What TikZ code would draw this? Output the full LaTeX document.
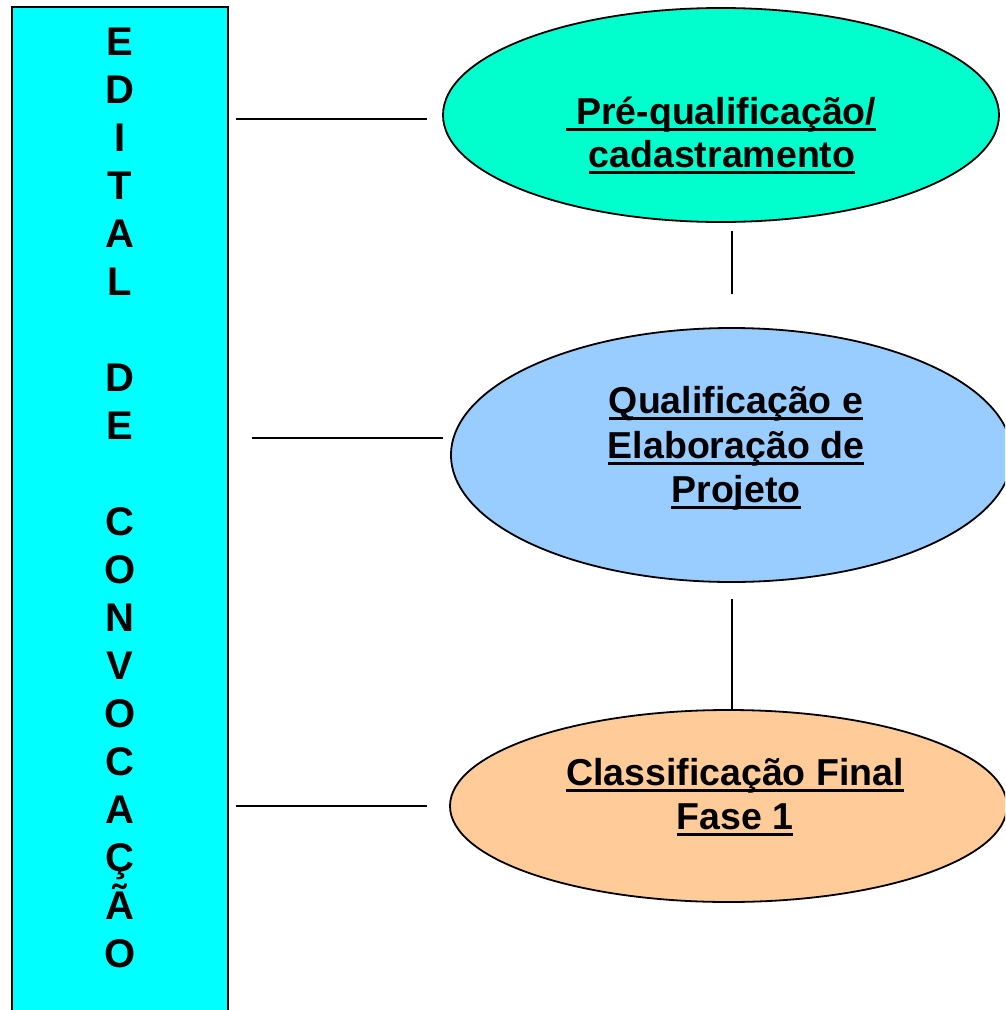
\documentclass[tikz,border=0pt]{standalone}
\usepackage{fontspec}
\setmainfont{Liberation Sans}
\usetikzlibrary{shapes.geometric}
\definecolor{boxcyan}{HTML}{00FFFF}
\definecolor{ellA}{HTML}{00FFCC}
\definecolor{ellB}{HTML}{99CCFF}
\definecolor{ellC}{HTML}{FFCC99}
\newcommand\myul[1]{\setbox0=\hbox{#1}\rlap{\rule[-6.5pt]{\wd0}{2.8pt}}\box0}
\tikzset{
  stage/.style={ellipse, draw=black, line width=1.8pt, inner sep=0pt},
  vletter/.style={anchor=base, inner sep=0pt, font=\fontsize{40}{48}\selectfont\bfseries},
  etext/.style={anchor=base, inner sep=0pt, font=\fontsize{37.5}{42}\selectfont\bfseries},
  link/.style={draw=black, line width=2.3pt},
}
\begin{document}
\begin{tikzpicture}[x=1pt,y=-1pt]
\useasboundingbox (0,0) rectangle (1005,1010);
\clip (0,0) rectangle (1005,1010);
\fill[white] (0,0) rectangle (1005,1010);
% left box
\draw[fill=boxcyan, line width=2.5pt] (12.2,7) rectangle (228,1030);
\foreach \ch [count=\i] in {E,D,I,T,A,L,,D,E,,C,O,N,V,O,C,A,Ç,Ã,O}{
  \node[vletter] (v\i) at (120,{55+48*(\i-1)}) {\ch};
}
% ellipses
\node[stage, fill=ellA, minimum width=556pt, minimum height=214pt] (e1) at (721,115) {};
\node[stage, fill=ellB, minimum width=561pt, minimum height=254pt] (e2) at (731.5,455) {};
\node[stage, fill=ellC, minimum width=557pt, minimum height=192pt] (e3) at (728.5,806) {};
% texts
\node[etext] (t1a) at (721,124) {\myul{\ Pré-qualificação/}};
\node[etext] (t1b) at (722,167) {\myul{cadastramento}};
\node[etext] (t2a) at (736,413) {\myul{Qualificação e}};
\node[etext] (t2b) at (736,458) {\myul{Elaboração de}};
\node[etext] (t2c) at (736,502) {\myul{Projeto}};
\node[etext] (t3a) at (735,785) {\myul{Classificação Final}};
\node[etext] (t3b) at (735,829) {\myul{Fase 1}};
% connector end points
\coordinate (h1s) at (236,119); \coordinate (h1e) at (427,119);
\coordinate (h2s) at (252,438); \coordinate (h2e) at (443,438);
\coordinate (h3s) at (236,806); \coordinate (h3e) at (427,806);
\coordinate (v1s) at (732,231); \coordinate (v1e) at (732,294);
\coordinate (v2s) at (732,599); \coordinate (v2e) at (732,710);
\draw[link] (h1s) -- (h1e);
\draw[link] (h2s) -- (h2e);
\draw[link] (h3s) -- (h3e);
\draw[link] (v1s) -- (v1e);
\draw[link] (v2s) -- (v2e);
\end{tikzpicture}
\end{document}
